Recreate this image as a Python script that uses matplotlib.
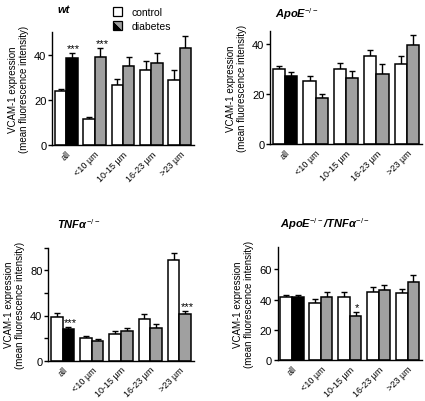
import matplotlib
matplotlib.use("Agg")
import matplotlib.pyplot as plt
import numpy as np
from matplotlib.patches import Rectangle, Polygon

plt.rcParams['font.family'] = ['Liberation Sans', 'DejaVu Sans']
plt.rcParams['mathtext.fontset'] = 'custom'
plt.rcParams['mathtext.rm'] = 'Liberation Sans'
plt.rcParams['mathtext.it'] = 'Liberation Sans:italic:bold'
plt.rcParams['mathtext.bf'] = 'Liberation Sans:bold'

categories = ["all", "<10 µm", "10-15 µm", "16-23 µm", ">23 µm"]
series_names = ["control", "diabetes"]

wt_control = [23.7, 11.4, 26.7, 33.2, 28.9]
wt_control_err = [1.3, 1.2, 2.5, 3.8, 4.1]
wt_diabetes = [38.3, 38.8, 35.0, 36.4, 43.0]
wt_diabetes_err = [2.4, 4.3, 3.8, 4.2, 5.4]

apoe_control = [30.0, 25.2, 30.0, 35.2, 32.1]
apoe_control_err = [1.3, 2.0, 2.4, 2.4, 3.1]
apoe_diabetes = [27.2, 18.2, 26.2, 28.1, 39.7]
apoe_diabetes_err = [1.4, 1.7, 3.0, 3.7, 4.0]

tnf_control = [39.1, 19.9, 23.7, 37.3, 89.2]
tnf_control_err = [2.7, 2.0, 2.4, 4.2, 6.2]
tnf_diabetes = [28.1, 17.2, 26.4, 29.3, 40.9]
tnf_diabetes_err = [1.5, 1.8, 2.3, 3.0, 3.2]

dko_control = [41.6, 38.0, 41.8, 45.0, 44.1]
dko_control_err = [1.6, 2.3, 3.2, 3.3, 3.2]
dko_diabetes = [41.7, 42.0, 28.9, 46.4, 51.5]
dko_diabetes_err = [1.6, 3.0, 3.1, 3.2, 4.9]

# significance marks: (category index, text)
wt_sig = [(0, "***"), (1, "***")]
apoe_sig = []
tnf_sig = [(0, "***"), (4, "***")]
dko_sig = [(2, "*")]

titles = ["wt", "ApoE$^{-/-}$", "TNF$\\alpha^{-/-}$", "ApoE$^{-/-}$/TNF$\\alpha^{-/-}$"]
ylims = [50, 45, 100, 75]
major_ticks = [[0, 20, 40], [0, 20, 40], [0, 40, 80], [0, 20, 40, 60]]
minor_ticks = [[], [], [20, 60, 100], []]
ylabel = "VCAM-1 expression\n(mean fluorescence intensity)"

W, H = 425, 402
fig = plt.figure(figsize=(W / 100, H / 100), dpi=100)

def rect(l, r, t, b):
    return [l / W, 1 - b / H, (r - l) / W, (b - t) / H]

rects = [rect(52, 194, 33, 146), rect(270, 422, 32.3, 145),
         rect(48, 194, 248.7, 361.7), rect(277.5, 422, 247.7, 361)]
title_pos = [(57, 10), (275, 14), (57, 224), (280, 224)]

data = [
    (wt_control, wt_control_err, wt_diabetes, wt_diabetes_err, wt_sig),
    (apoe_control, apoe_control_err, apoe_diabetes, apoe_diabetes_err, apoe_sig),
    (tnf_control, tnf_control_err, tnf_diabetes, tnf_diabetes_err, tnf_sig),
    (dko_control, dko_control_err, dko_diabetes, dko_diabetes_err, dko_sig),
]

gray = "#a0a0a0"
x = np.arange(len(categories))
bw = 0.4
for i, (c, ce, d, de, sig) in enumerate(data):
    ax = fig.add_axes(rects[i])
    dcolors = ["black"] + [gray] * (len(categories) - 1)
    ax.bar(x - bw / 2, c, bw, color="white", edgecolor="black", linewidth=1.1, zorder=2)
    ax.bar(x + bw / 2, d, bw, color=dcolors, edgecolor="black", linewidth=1.1, zorder=2)
    ax.errorbar(x - bw / 2, c, yerr=[np.zeros(len(c)), ce], fmt="none", ecolor="black",
                elinewidth=1.0, capsize=2.5, capthick=1.0, zorder=1)
    ax.errorbar(x + bw / 2, d, yerr=[np.zeros(len(d)), de], fmt="none", ecolor="black",
                elinewidth=1.0, capsize=2.5, capthick=1.0, zorder=1)
    for idx, txt in sig:
        ax.text(idx + bw / 2 + 0.06, d[idx] + de[idx], txt,
                ha="center", va="bottom", fontsize=8)
    ax.set_xlim(-0.5, 4.5)
    ax.set_ylim(0, ylims[i])
    ax.set_yticks(major_ticks[i])
    ax.set_yticks(minor_ticks[i], minor=True)
    ax.set_xticks(x)
    ax.set_xticklabels(categories, rotation=45, ha="right", rotation_mode="anchor", fontsize=6.5)
    ax.tick_params(axis="y", labelsize=8, length=3, width=1, pad=1)
    ax.tick_params(axis="y", which="minor", length=3, width=1)
    ax.tick_params(axis="x", length=0, pad=3)
    for s in ["top", "right"]:
        ax.spines[s].set_visible(False)
    for s in ["left", "bottom"]:
        ax.spines[s].set_linewidth(1.0)
    ax.set_ylabel(ylabel, fontsize=7, labelpad=4, linespacing=1.1)
    fig.text(title_pos[i][0] / W, 1 - title_pos[i][1] / H, titles[i],
             fontsize=8, fontweight="bold", style="italic", ha="left", va="center")

# legend
bs = 9
lx, ly1, ly2 = 113, 8, 22
fig.patches.append(Rectangle((lx / W, 1 - (ly1 + bs) / H), bs / W, bs / H,
                             transform=fig.transFigure, facecolor="white",
                             edgecolor="black", linewidth=0.9))
x0, x1 = lx / W, (lx + bs) / W
y0, y1 = 1 - (ly2 + bs) / H, 1 - ly2 / H
fig.patches.append(Polygon([(x0, y0), (x0, y1), (x1, y0)], closed=True,
                           transform=fig.transFigure, facecolor="black", edgecolor="none"))
fig.patches.append(Polygon([(x0, y1), (x1, y1), (x1, y0)], closed=True,
                           transform=fig.transFigure, facecolor=gray, edgecolor="none"))
fig.patches.append(Rectangle((x0, y0), bs / W, bs / H, transform=fig.transFigure,
                             facecolor="none", edgecolor="black", linewidth=0.9))
fig.text(132 / W, 1 - (ly1 + bs / 2) / H, series_names[0], fontsize=7.5, va="center", ha="left")
fig.text(132 / W, 1 - (ly2 + bs / 2) / H, series_names[1], fontsize=7.5, va="center", ha="left")

fig.savefig("out.png", dpi=100)
